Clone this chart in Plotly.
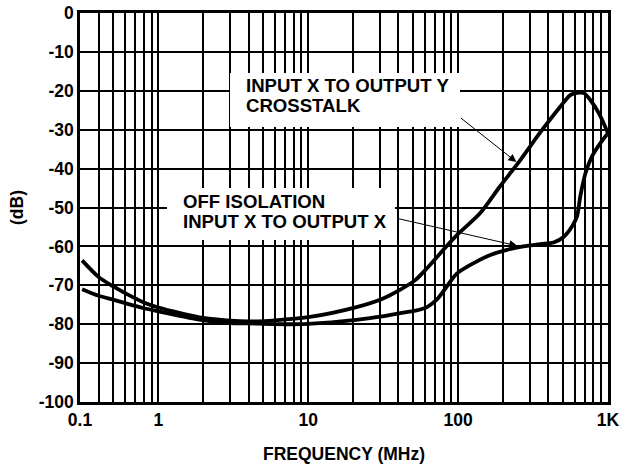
import numpy as np
import plotly.graph_objects as go

# ---- data (x in axis units, MHz; y in dB) ----
crosstalk_f = [0.31, 0.4, 0.5, 0.6, 0.8, 1, 2, 3, 4, 6, 10, 21, 31, 42, 52, 62, 72, 84,
               100, 140, 190, 260, 350, 480, 560, 620, 690, 760, 870, 1000]
crosstalk_db = [-63.6, -67.9, -70.3, -72.0, -74.4, -75.7, -78.4, -79.1, -79.3, -79.0, -78.2,
                -75.6, -73.5, -70.9, -68.6, -65.6, -62.8, -59.9, -56.8, -51.5, -44.6, -37.8,
                -30.9, -24.1, -21.1, -20.5, -20.6, -22.3, -25.8, -30.9]

offiso_f = [0.31, 0.4, 0.5, 0.6, 0.8, 1, 2, 3, 4, 6, 10, 21, 31, 42, 52, 62, 72, 84, 98,
            127, 164, 212, 272, 354, 433, 508, 575, 621, 653, 707, 781, 887, 1000]
offiso_db = [-71.0, -72.7, -73.7, -74.6, -75.9, -76.7, -79.0, -79.7, -79.8, -80.0, -79.9,
             -78.9, -78.0, -77.1, -76.5, -75.6, -73.7, -70.3, -67.0, -64.3, -62.2, -60.9,
             -60.0, -59.4, -59.0, -57.5, -54.9, -52.3, -47.2, -41.2, -36.9, -33.5, -30.9]

x_tickvals = [0.3, 0.4, 0.5, 0.6, 0.7, 0.8, 0.9,
              1, 2, 3, 4, 5, 6, 7, 8, 9,
              10, 20, 30, 40, 50, 60, 70, 80, 90,
              100, 200, 300, 400, 500, 600, 700, 800, 900, 1000]
x_ticktext = ["0.1", "", "", "", "", "", "",
              "1", "", "", "", "", "", "", "", "",
              "10", "", "", "", "", "", "", "", "",
              "100", "", "", "", "", "", "", "", "", "1K"]
y_tickvals = [0, -10, -20, -30, -40, -50, -60, -70, -80, -90, -100]
y_ticktext = ["0", "-10", "-20", "-30", "-40", "-50", "-60", "-70", "-80", "-90", "-100"]

label1 = ["INPUT X TO OUTPUT Y", "CROSSTALK"]
label2 = ["OFF ISOLATION", "INPUT X TO OUTPUT X"]

FONT = "Liberation Sans, Arial, sans-serif"

fig = go.Figure()
for xs, ys in [(crosstalk_f, crosstalk_db), (offiso_f, offiso_db)]:
    fig.add_trace(go.Scatter(x=xs, y=ys, mode="lines",
                             line=dict(color="black", width=3.8, shape="spline", smoothing=0.8),
                             showlegend=False, hoverinfo="skip"))

def px2paper_x(px):
    return (px - 80) / 528.0

def px2paper_y(py):
    return (402 - py) / 389.0

shapes = []
for (x0, x1, y0, y1) in [(230, 460, 73, 127), (167, 395, 188, 240)]:
    shapes.append(dict(type="rect", xref="paper", yref="paper",
                       x0=px2paper_x(x0), x1=px2paper_x(x1),
                       y0=px2paper_y(y1), y1=px2paper_y(y0),
                       fillcolor="white", line=dict(width=0), layer="above"))

annotations = []
for text, px, py in [(label1[0], 245, 86), (label1[1], 245, 105.5),
                     (label2[0], 182, 201.5), (label2[1], 182, 221.5)]:
    annotations.append(dict(text=text, xref="paper", yref="paper",
                            x=px2paper_x(px), y=px2paper_y(py),
                            xanchor="left", yanchor="middle", showarrow=False,
                            borderpad=0,
                            font=dict(family=FONT, size=18.6, color="black", weight="bold")))

# arrows: (head f, head dB, tail f, tail dB)
for hf, hdb, tf, tdb in [(244.7, -38.3, 102, -26.7), (248, -59.85, 38.2, -52.7)]:
    annotations.append(dict(text="", x=np.log10(hf), y=hdb, xref="x", yref="y",
                            ax=np.log10(tf), ay=tdb, axref="x", ayref="y",
                            showarrow=True, arrowhead=2, arrowsize=1.6, arrowwidth=1,
                            arrowcolor="black", standoff=0, startstandoff=0))

fig.update_layout(
    width=624, height=464,
    margin=dict(l=80, r=16, t=13, b=62, autoexpand=False),
    paper_bgcolor="white", plot_bgcolor="white",
    shapes=shapes, annotations=annotations,
    font=dict(family=FONT, color="black"),
)
fig.update_xaxes(type="log", range=[np.log10(0.3), 3],
                 tickvals=x_tickvals, ticktext=x_ticktext,
                 showgrid=True, gridcolor="black", gridwidth=2.2,
                 showline=True, linecolor="black", linewidth=2.5, mirror=True,
                 ticks="", zeroline=False, automargin=False,
                 tickfont=dict(family=FONT, size=17.5, color="black", weight="bold"),
                 title=dict(text="FREQUENCY (MHz)", standoff=19,
                            font=dict(family=FONT, size=17.5, color="black", weight="bold")))
fig.update_yaxes(range=[-100, 0], tickvals=y_tickvals, ticktext=y_ticktext,
                 showgrid=True, gridcolor="black", gridwidth=2.2,
                 showline=True, linecolor="black", linewidth=2.5, mirror=True,
                 ticks="", zeroline=False, automargin=False,
                 tickfont=dict(family=FONT, size=17.5, color="black", weight="bold"),
                 title=dict(text="(dB)", standoff=11,
                            font=dict(family=FONT, size=17.5, color="black", weight="bold")))

fig.write_html("out.html", config={"displayModeBar": False},
               post_script="document.body.style.margin='0px';document.body.style.overflow='hidden';")
